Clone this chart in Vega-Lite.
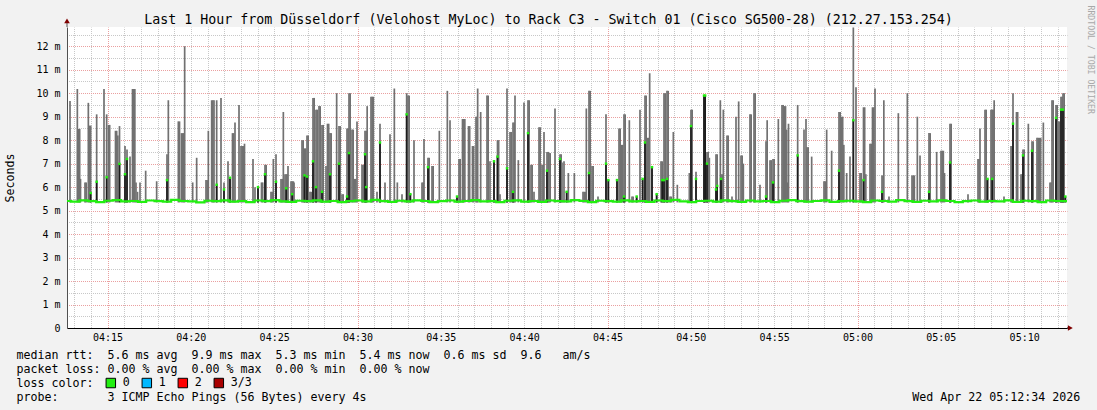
{
  "$schema": "https://vega.github.io/schema/vega-lite/v6.json",
  "width": 1000,
  "height": 301,
  "autosize": {"type": "none"},
  "padding": {"left": 67, "top": 27, "right": 30, "bottom": 82},
  "background": "#f2f2f2",
  "view": {"fill": "#ffffff", "stroke": null},
  "config": {"font": "DejaVu Sans Mono"},
  "title": {
    "text": "Last 1 Hour from Düsseldorf (Velohost MyLoc) to Rack C3 - Switch 01 (Cisco SG500-28) (212.27.153.254)",
    "font": "DejaVu Sans Mono", "fontSize": 13.3, "fontWeight": "normal", "color": "#000000",
    "anchor": "middle", "frame": "group", "dx": -18.5, "baseline": "alphabetic", "offset": -32
  },
  "datasets": {
    "smoke": [
      {"m":12.75,"hi":9.67},{"m":13.19,"hi":10.18},{"m":13.26,"hi":8.48},{"m":13.33,"hi":8.48},{"m":13.38,"hi":6.35},
      {"m":13.65,"hi":6.2},{"m":13.72,"hi":6.2},{"m":13.85,"hi":9.59},{"m":13.92,"hi":8.62},{"m":13.99,"md":5.75,"hi":8.62},
      {"m":14.35,"md":6.23,"hi":9.1},{"m":14.79,"hi":10.18},{"m":14.95,"md":6.42,"hi":9.1},{"m":15.06,"hi":8.65},{"m":15.13,"hi":8.65},
      {"m":15.48,"hi":8.4},{"m":15.55,"hi":8.4},{"m":15.62,"hi":8.2},{"m":15.72,"md":6.99,"hi":8.6},{"m":16.05,"md":6.55,"hi":7.75},
      {"m":16.17,"md":7.2,"hi":7.6},{"m":16.35,"hi":7.3},{"m":16.5,"hi":10.18},{"m":16.57,"hi":10.18},{"m":16.64,"hi":10.18},
      {"m":16.71,"hi":6.2},{"m":16.8,"hi":5.8},{"m":16.95,"hi":6.2},{"m":17.29,"hi":6.7},{"m":17.95,"hi":6.25},
      {"m":18.57,"md":6.3,"hi":7.4},{"m":18.65,"hi":9.7},{"m":19.25,"hi":8.8},{"m":19.32,"hi":8.8},{"m":19.44,"hi":8.3},
      {"m":19.51,"hi":8.3},{"m":19.58,"hi":8.3},{"m":19.63,"hi":12.0},{"m":20.11,"hi":6.2},{"m":20.35,"hi":7.25},
      {"m":20.91,"hi":6.3},{"m":20.98,"hi":6.3},{"m":21.05,"hi":8.4},{"m":21.25,"hi":9.7},{"m":21.32,"hi":9.7},
      {"m":21.39,"hi":9.7},{"m":21.55,"md":6.1,"hi":9.7},{"m":21.81,"hi":9.8},{"m":21.99,"md":5.9,"hi":6.2},{"m":22.23,"hi":7.1},
      {"m":22.35,"md":6.4,"hi":6.4},{"m":22.5,"hi":8.3},{"m":22.57,"hi":8.3},{"m":22.65,"hi":8.75},{"m":22.89,"hi":9.5},
      {"m":23.01,"hi":7.75},{"m":23.08,"hi":7.75},{"m":23.15,"hi":7.75},{"m":23.22,"hi":7.85},{"m":23.73,"hi":7.2},
      {"m":23.85,"hi":6.0},{"m":24.03,"md":6.0,"hi":6.0},{"m":24.24,"hi":6.2},{"m":24.31,"hi":6.2},{"m":24.45,"md":6.55,"hi":6.95},
      {"m":24.52,"hi":6.95},{"m":24.81,"hi":5.8},{"m":24.88,"hi":5.8},{"m":24.95,"hi":7.2},{"m":25.11,"md":6.23,"hi":7.4},
      {"m":25.41,"hi":6.35},{"m":25.48,"hi":6.35},{"m":25.55,"hi":9.2},{"m":25.65,"hi":6.55},{"m":25.72,"md":5.95,"hi":6.55},
      {"m":25.79,"hi":6.55},{"m":25.83,"hi":6.9},{"m":26.01,"hi":6.25},{"m":26.08,"md":5.7,"hi":6.25},{"m":26.15,"hi":6.25},
      {"m":26.19,"hi":6.2},{"m":26.67,"hi":8.0},{"m":26.74,"hi":8.0},{"m":26.82,"md":6.5,"hi":7.65},{"m":26.89,"hi":7.65},
      {"m":26.97,"md":6.45,"hi":8.2},{"m":27.04,"hi":8.2},{"m":27.15,"hi":5.8},{"m":27.22,"hi":5.8},{"m":27.33,"md":7.1,"hi":9.8},
      {"m":27.4,"hi":9.8},{"m":27.51,"md":6.0,"hi":9.3},{"m":27.58,"hi":9.3},{"m":27.69,"hi":9.45},{"m":27.76,"hi":9.45},
      {"m":27.87,"md":5.8,"hi":8.65},{"m":27.94,"hi":8.65},{"m":28.11,"hi":6.9},{"m":28.2,"hi":8.7},{"m":28.27,"hi":8.7},
      {"m":28.35,"md":6.55,"hi":8.3},{"m":28.42,"hi":8.3},{"m":28.75,"hi":10.0},{"m":28.89,"md":7.0,"hi":8.6},{"m":28.96,"hi":8.6},
      {"m":29.07,"hi":5.7},{"m":29.14,"hi":5.7},{"m":29.37,"md":5.6,"hi":8.5},{"m":29.44,"hi":8.5},{"m":29.49,"md":7.45,"hi":10.0},
      {"m":29.56,"hi":10.0},{"m":29.67,"hi":8.45},{"m":29.74,"hi":8.45},{"m":29.82,"hi":6.35},{"m":29.89,"hi":6.35},
      {"m":29.97,"hi":8.8},{"m":30.27,"hi":6.95},{"m":30.34,"hi":6.95},{"m":30.45,"md":7.4,"hi":8.4},{"m":30.52,"md":6.0,"hi":8.4},
      {"m":30.58,"hi":9.45},{"m":30.81,"hi":9.85},{"m":30.88,"hi":9.85},{"m":30.95,"hi":9.85},{"m":31.17,"hi":5.8},
      {"m":31.35,"md":7.9,"hi":8.7},{"m":31.65,"hi":6.2},{"m":31.95,"hi":8.25},{"m":32.21,"hi":10.2},{"m":32.39,"hi":6.2},
      {"m":32.67,"hi":5.7},{"m":32.95,"md":9.1,"hi":10.0},{"m":33.03,"hi":9.9},{"m":33.1,"hi":9.9},{"m":33.17,"md":5.7,"hi":5.7},
      {"m":33.39,"hi":8.0},{"m":33.87,"hi":6.2},{"m":33.94,"hi":6.2},{"m":33.99,"hi":8.05},{"m":34.23,"md":6.85,"hi":7.25},
      {"m":34.3,"hi":7.25},{"m":34.47,"hi":6.9},{"m":34.54,"hi":6.9},{"m":34.91,"hi":8.4},{"m":35.39,"hi":10.1},
      {"m":35.55,"hi":8.85},{"m":35.97,"md":5.6,"hi":5.6},{"m":36.09,"hi":7.2},{"m":36.16,"hi":7.2},{"m":36.3,"hi":8.9},
      {"m":36.37,"hi":8.9},{"m":36.44,"hi":8.9},{"m":36.66,"hi":8.6},{"m":36.73,"hi":8.6},{"m":36.9,"hi":7.75},
      {"m":36.97,"hi":7.75},{"m":37.11,"hi":9.0},{"m":37.18,"hi":9.0},{"m":37.21,"hi":10.2},{"m":37.39,"hi":9.2},
      {"m":37.77,"hi":9.9},{"m":37.84,"hi":9.9},{"m":37.95,"hi":7.1},{"m":38.19,"md":7.1,"hi":7.15},{"m":38.4,"md":7.3,"hi":8.0},
      {"m":38.47,"hi":8.0},{"m":38.55,"hi":5.7},{"m":38.97,"md":6.8,"hi":10.2},{"m":39.15,"hi":8.35},{"m":39.22,"hi":8.35},
      {"m":39.33,"md":5.8,"hi":8.75},{"m":39.4,"hi":8.75},{"m":39.45,"hi":9.9},{"m":39.65,"hi":7.15},{"m":39.99,"hi":9.6},
      {"m":40.23,"md":8.3,"hi":9.7},{"m":40.3,"hi":9.7},{"m":40.41,"hi":6.95},{"m":40.48,"hi":6.95},{"m":40.59,"hi":5.8},
      {"m":40.89,"hi":8.55},{"m":40.96,"hi":8.55},{"m":41.07,"hi":6.95},{"m":41.14,"hi":6.95},{"m":41.19,"hi":8.35},
      {"m":41.37,"md":6.7,"hi":7.5},{"m":41.44,"hi":7.5},{"m":41.49,"hi":7.45},{"m":41.56,"hi":7.45},{"m":41.85,"hi":9.35},
      {"m":42.15,"md":7.2,"hi":7.4},{"m":42.22,"hi":7.4},{"m":42.27,"hi":7.05},{"m":42.39,"hi":7.1},{"m":42.55,"md":5.8,"hi":5.8},
      {"m":42.65,"hi":6.6},{"m":43.01,"hi":6.6},{"m":43.53,"hi":5.8},{"m":43.6,"hi":5.8},{"m":43.67,"hi":5.8},
      {"m":43.73,"hi":9.35},{"m":43.89,"md":6.6,"hi":10.1},{"m":43.96,"hi":10.1},{"m":44.07,"hi":6.9},{"m":44.14,"hi":6.9},
      {"m":44.43,"hi":5.6},{"m":44.91,"md":7.0,"hi":9.1},{"m":45.05,"md":6.3,"hi":6.3},{"m":45.57,"md":6.3,"hi":6.3},{"m":45.69,"hi":8.5},
      {"m":45.76,"hi":8.5},{"m":45.84,"hi":7.8},{"m":45.91,"hi":7.8},{"m":45.99,"md":5.6,"hi":9.1},{"m":46.06,"hi":9.1},
      {"m":46.31,"hi":8.85},{"m":46.47,"hi":5.6},{"m":46.54,"hi":5.6},{"m":46.75,"md":5.6,"hi":5.6},{"m":46.95,"hi":9.3},
      {"m":47.11,"md":6.35,"hi":6.35},{"m":47.25,"md":7.9,"hi":9.9},{"m":47.32,"hi":9.9},{"m":47.4,"hi":8.1},{"m":47.47,"hi":8.1},
      {"m":47.53,"hi":10.85},{"m":47.67,"md":6.85,"hi":6.9},{"m":47.95,"md":5.7,"hi":5.7},{"m":48.21,"hi":7.1},{"m":48.28,"md":6.3,"hi":7.1},
      {"m":48.39,"md":6.3,"hi":10.0},{"m":48.46,"hi":10.0},{"m":48.57,"md":6.35,"hi":10.1},{"m":48.64,"hi":10.1},{"m":48.75,"hi":5.6},
      {"m":48.82,"hi":5.6},{"m":48.95,"hi":8.35},{"m":49.19,"hi":6.1},{"m":49.91,"hi":6.6},{"m":50.01,"md":8.6,"hi":9.3},
      {"m":50.08,"hi":9.3},{"m":50.31,"md":6.35,"hi":6.65},{"m":50.79,"md":9.9,"hi":9.9},{"m":50.86,"md":9.9,"hi":9.9},{"m":50.97,"md":7.0,"hi":7.5},
      {"m":51.04,"hi":7.5},{"m":51.11,"hi":7.25},{"m":51.51,"md":5.9,"hi":7.4},{"m":51.58,"md":6.05,"hi":7.4},{"m":51.77,"hi":9.7},
      {"m":51.81,"md":6.35,"hi":6.55},{"m":51.88,"hi":6.55},{"m":51.95,"hi":9.3},{"m":52.17,"hi":8.2},{"m":52.24,"hi":8.2},
      {"m":52.47,"hi":5.6},{"m":52.71,"hi":9.0},{"m":52.87,"hi":9.65},{"m":53.01,"hi":7.35},{"m":53.08,"hi":7.35},
      {"m":53.15,"hi":7.0},{"m":53.55,"hi":9.1},{"m":53.62,"hi":9.1},{"m":53.79,"hi":10.0},{"m":53.86,"hi":10.0},
      {"m":54.15,"hi":6.1},{"m":54.51,"md":5.6,"hi":7.95},{"m":54.58,"hi":8.85},{"m":54.75,"hi":7.15},{"m":54.82,"hi":7.15},
      {"m":54.93,"md":6.2,"hi":7.2},{"m":55.0,"hi":7.2},{"m":55.25,"hi":8.9},{"m":55.47,"hi":9.5},{"m":55.54,"hi":9.5},
      {"m":55.61,"hi":9.45},{"m":55.68,"hi":9.45},{"m":55.75,"hi":8.45},{"m":55.82,"hi":6.2},{"m":55.86,"hi":8.7},
      {"m":56.41,"md":7.35,"hi":9.5},{"m":56.79,"hi":8.45},{"m":56.91,"hi":8.9},{"m":56.97,"hi":7.7},{"m":57.04,"hi":7.7},
      {"m":57.25,"hi":7.3},{"m":57.99,"hi":6.25},{"m":58.06,"hi":6.25},{"m":58.15,"hi":8.45},{"m":58.45,"hi":7.55},
      {"m":58.89,"md":6.7,"hi":9.2},{"m":58.96,"hi":9.2},{"m":59.04,"hi":9.0},{"m":59.11,"hi":9.0},{"m":59.18,"hi":7.8},
      {"m":59.35,"hi":6.6},{"m":59.55,"hi":7.3},{"m":59.75,"md":8.85,"hi":12.8},{"m":59.91,"hi":10.25},{"m":60.15,"hi":6.6},
      {"m":60.22,"hi":6.6},{"m":60.36,"md":6.3,"hi":9.4},{"m":60.43,"hi":9.4},{"m":60.5,"hi":6.55},{"m":60.75,"hi":7.85},
      {"m":60.82,"hi":7.85},{"m":60.9,"hi":9.4},{"m":60.97,"hi":9.4},{"m":61.05,"hi":10.2},{"m":61.47,"md":5.8,"hi":6.5},
      {"m":61.54,"hi":6.5},{"m":61.58,"hi":9.7},{"m":61.89,"hi":5.6},{"m":62.45,"hi":9.15},{"m":62.99,"hi":10.0},
      {"m":63.27,"hi":6.5},{"m":63.34,"hi":6.5},{"m":63.41,"hi":6.5},{"m":63.59,"hi":9.0},{"m":63.75,"hi":7.35},
      {"m":64.29,"md":5.8,"hi":8.3},{"m":64.36,"hi":8.3},{"m":64.75,"hi":7.5},{"m":65.01,"hi":7.55},{"m":65.08,"hi":7.55},
      {"m":65.15,"hi":7.55},{"m":65.22,"hi":6.6},{"m":65.55,"md":7.05,"hi":8.7},{"m":65.62,"hi":8.7},{"m":66.63,"hi":5.7},
      {"m":67.23,"hi":7.2},{"m":67.3,"hi":7.2},{"m":67.35,"hi":8.5},{"m":67.65,"hi":9.3},{"m":67.72,"hi":9.3},
      {"m":67.8,"md":6.35,"hi":6.35},{"m":68.01,"hi":9.3},{"m":68.08,"md":6.35,"hi":9.3},{"m":68.15,"hi":9.3},{"m":68.2,"hi":9.7},
      {"m":68.79,"hi":5.6},{"m":69.21,"hi":7.75},{"m":69.28,"hi":7.75},{"m":69.33,"md":8.7,"hi":10.0},{"m":69.54,"hi":9.2},
      {"m":69.61,"hi":9.2},{"m":69.81,"hi":6.55},{"m":69.88,"hi":6.55},{"m":69.93,"md":7.35,"hi":7.6},{"m":70.0,"hi":7.6},
      {"m":70.25,"hi":8.7},{"m":70.47,"md":7.55,"hi":7.95},{"m":70.54,"hi":7.95},{"m":70.77,"hi":8.1},{"m":70.84,"hi":8.1},
      {"m":70.92,"hi":8.1},{"m":70.99,"hi":8.1},{"m":71.15,"hi":8.75},{"m":71.55,"hi":6.2},{"m":71.62,"hi":6.2},
      {"m":71.67,"hi":9.7},{"m":71.74,"hi":9.7},{"m":71.91,"md":8.95,"hi":9.5},{"m":71.98,"hi":9.5},{"m":72.03,"hi":8.8},
      {"m":72.1,"hi":8.8},{"m":72.21,"md":9.3,"hi":9.85},{"m":72.28,"hi":9.85},{"m":72.33,"md":9.3,"hi":10.0},{"m":72.4,"hi":10.0},
      {"m":72.47,"md":5.6,"hi":5.6}
    ],
    "base": [
      {"m":12.57,"v":5.41},{"m":13.07,"v":5.38},{"m":13.57,"v":5.44},{"m":14.07,"v":5.4},{"m":14.57,"v":5.36},{"m":15.07,"v":5.42},{"m":15.57,"v":5.45},{"m":16.07,"v":5.39},{"m":16.57,"v":5.41},{"m":17.07,"v":5.37},
      {"m":17.57,"v":5.43},{"m":18.07,"v":5.4},{"m":18.57,"v":5.38},{"m":19.07,"v":5.46},{"m":19.57,"v":5.41},{"m":20.07,"v":5.39},{"m":20.57,"v":5.35},{"m":21.07,"v":5.42},{"m":21.57,"v":5.4},{"m":22.07,"v":5.44},
      {"m":22.57,"v":5.38},{"m":23.07,"v":5.41},{"m":23.57,"v":5.36},{"m":24.07,"v":5.43},{"m":24.57,"v":5.4},{"m":25.07,"v":5.45},{"m":25.57,"v":5.39},{"m":26.07,"v":5.37},{"m":26.57,"v":5.42},{"m":27.07,"v":5.4},
      {"m":27.57,"v":5.44},{"m":28.07,"v":5.38},{"m":28.57,"v":5.41},{"m":29.07,"v":5.36},{"m":29.57,"v":5.4},{"m":30.07,"v":5.43},{"m":30.57,"v":5.39},{"m":31.07,"v":5.46},{"m":31.57,"v":5.4},{"m":32.07,"v":5.37},
      {"m":32.57,"v":5.42},{"m":33.07,"v":5.39},{"m":33.57,"v":5.44},{"m":34.07,"v":5.41},{"m":34.57,"v":5.36},{"m":35.07,"v":5.4},{"m":35.57,"v":5.43},{"m":36.07,"v":5.38},{"m":36.57,"v":5.41},{"m":37.07,"v":5.45},
      {"m":37.57,"v":5.39},{"m":38.07,"v":5.4},{"m":38.57,"v":5.36},{"m":39.07,"v":5.42},{"m":39.57,"v":5.44},{"m":40.07,"v":5.38},{"m":40.57,"v":5.41},{"m":41.07,"v":5.37},{"m":41.57,"v":5.43},{"m":42.07,"v":5.4},
      {"m":42.57,"v":5.39},{"m":43.07,"v":5.45},{"m":43.57,"v":5.41},{"m":44.07,"v":5.36},{"m":44.57,"v":5.42},{"m":45.07,"v":5.4},{"m":45.57,"v":5.38},{"m":46.07,"v":5.44},{"m":46.57,"v":5.39},{"m":47.07,"v":5.41},
      {"m":47.57,"v":5.37},{"m":48.07,"v":5.43},{"m":48.57,"v":5.4},{"m":49.07,"v":5.46},{"m":49.57,"v":5.39},{"m":50.07,"v":5.36},{"m":50.57,"v":5.41},{"m":51.07,"v":5.42},{"m":51.57,"v":5.38},{"m":52.07,"v":5.44},
      {"m":52.57,"v":5.4},{"m":53.07,"v":5.37},{"m":53.57,"v":5.43},{"m":54.07,"v":5.39},{"m":54.57,"v":5.41},{"m":55.07,"v":5.36},{"m":55.57,"v":5.42},{"m":56.07,"v":5.45},{"m":56.57,"v":5.4},{"m":57.07,"v":5.38},
      {"m":57.57,"v":5.41},{"m":58.07,"v":5.44},{"m":58.57,"v":5.37},{"m":59.07,"v":5.4},{"m":59.57,"v":5.42},{"m":60.07,"v":5.39},{"m":60.57,"v":5.36},{"m":61.07,"v":5.43},{"m":61.57,"v":5.41},{"m":62.07,"v":5.38},
      {"m":62.57,"v":5.45},{"m":63.07,"v":5.4},{"m":63.57,"v":5.37},{"m":64.07,"v":5.42},{"m":64.57,"v":5.39},{"m":65.07,"v":5.44},{"m":65.57,"v":5.41},{"m":66.07,"v":5.36},{"m":66.57,"v":5.4},{"m":67.07,"v":5.43},
      {"m":67.57,"v":5.38},{"m":68.07,"v":5.41},{"m":68.57,"v":5.39},{"m":69.07,"v":5.44},{"m":69.57,"v":5.37},{"m":70.07,"v":5.42},{"m":70.57,"v":5.4},{"m":71.07,"v":5.36},{"m":71.57,"v":5.43},{"m":72.07,"v":5.41},
      {"m":72.57,"v":5.4}
    ]
  },
  "resolve": {"axis": {"x": "independent", "y": "independent"}},
  "layer": [
    {
      "data": {"name": "smoke"},
      "mark": {"type": "rule", "color": "#717171", "strokeWidth": 1.7},
      "encoding": {
        "x": {
          "field": "m", "type": "quantitative",
          "scale": {"domain": [12.57, 72.57], "nice": false, "zero": false},
          "axis": {
            "values": [13,14,15,16,17,18,19,20,21,22,23,24,25,26,27,28,29,30,31,32,33,34,35,36,37,38,39,40,41,42,43,44,45,46,47,48,49,50,51,52,53,54,55,56,57,58,59,60,61,62,63,64,65,66,67,68,69,70,71,72],
            "labelExpr": "datum.value % 5 === 0 ? '0' + (4 + floor(datum.value / 60)) + ':' + (datum.value % 60 < 10 ? '0' : '') + (datum.value % 60) : ''",
            "labelFont": "DejaVu Sans Mono", "labelFontSize": 10, "labelColor": "#000000", "labelPadding": 4,
            "labelOverlap": false, "labelFlush": false, "labelBound": false,
            "ticks": false, "domain": true, "domainColor": "#000000", "domainWidth": 1,
            "grid": true,
            "gridColor": {"condition": {"test": "datum.value % 15 === 0", "value": "#eaa0a0"}, "value": "#c8c8c8"},
            "gridDash": [1, 1], "gridDashOffset": 0.5, "gridWidth": 1,
            "title": [
              "median rtt: \u00a05.6 ms avg \u00a09.9 ms max \u00a05.3 ms min \u00a05.4 ms now \u00a00.6 ms sd \u00a09.6 \u00a0\u00a0am/s",
              "packet loss: 0.00 % avg \u00a00.00 % max \u00a00.00 % min \u00a00.00 % now",
              "loss color:",
              "probe: \u00a0\u00a0\u00a0\u00a0\u00a0\u00a03 ICMP Echo Pings (56 Bytes) every 4s \u00a0\u00a0\u00a0\u00a0\u00a0\u00a0\u00a0\u00a0\u00a0\u00a0\u00a0\u00a0\u00a0\u00a0\u00a0\u00a0\u00a0\u00a0\u00a0\u00a0\u00a0\u00a0\u00a0\u00a0\u00a0\u00a0\u00a0\u00a0\u00a0\u00a0\u00a0\u00a0\u00a0\u00a0\u00a0\u00a0\u00a0\u00a0\u00a0\u00a0\u00a0\u00a0\u00a0\u00a0\u00a0\u00a0\u00a0\u00a0\u00a0\u00a0\u00a0\u00a0\u00a0\u00a0\u00a0\u00a0\u00a0\u00a0\u00a0\u00a0\u00a0\u00a0\u00a0\u00a0\u00a0\u00a0\u00a0\u00a0\u00a0\u00a0\u00a0\u00a0\u00a0\u00a0\u00a0\u00a0\u00a0Wed Apr 22 05:12:34 2026"
            ],
            "titleFont": "DejaVu Sans Mono", "titleFontSize": 11.63, "titleFontWeight": "normal", "titleColor": "#000000",
            "titleAnchor": "start", "titleAlign": "left", "titleBaseline": "top", "titleAngle": 0,
            "titleX": -51, "titleY": 21, "titleLineHeight": 14, "titleLimit": 3000
          }
        },
        "y": {
          "field": "hi", "type": "quantitative",
          "scale": {"domain": [0, 12.82], "nice": false, "zero": false},
          "axis": {
            "orient": "left",
            "values": [0,0.5,1,1.5,2,2.5,3,3.5,4,4.5,5,5.5,6,6.5,7,7.5,8,8.5,9,9.5,10,10.5,11,11.5,12,12.5],
            "labelExpr": "datum.value % 1 !== 0 ? '' : (datum.value === 0 ? '0' : datum.value + ' m')",
            "labelFont": "DejaVu Sans Mono", "labelFontSize": 10, "labelColor": "#000000", "labelPadding": 7,
            "labelOverlap": false, "labelFlush": false, "labelBound": false,
            "ticks": false, "domain": true, "domainColor": "#505050", "domainWidth": 1,
            "grid": true,
            "gridColor": {"condition": {"test": "datum.value % 1 === 0", "value": "#eaa0a0"}, "value": "#c8c8c8"},
            "gridDash": [1, 1], "gridDashOffset": 0.5, "gridWidth": 1,
            "title": "Seconds",
            "titleFont": "DejaVu Sans Mono", "titleFontSize": 11.6, "titleFontWeight": "normal", "titleColor": "#000000",
            "titleAngle": -90, "titleAlign": "center", "titleBaseline": "middle", "titleX": -57, "titleY": 150.5
          }
        },
        "y2": {"datum": 5.35}
      }
    },
    {
      "data": {"name": "smoke"},
      "transform": [{"filter": "datum.md > 5.5"}],
      "mark": {"type": "rule", "color": "#1c1c1c", "strokeWidth": 1.7},
      "encoding": {
        "x": {"field": "m", "type": "quantitative", "scale": {"domain": [12.57, 72.57], "nice": false, "zero": false}, "axis": null},
        "y": {"field": "md", "type": "quantitative", "scale": {"domain": [0, 12.82], "nice": false, "zero": false}, "axis": null},
        "y2": {"datum": 5.35}
      }
    },
    {
      "data": {"name": "base"},
      "mark": {"type": "line", "color": "#22ee11", "strokeWidth": 2.2, "interpolate": "step"},
      "encoding": {
        "x": {"field": "m", "type": "quantitative", "scale": {"domain": [12.57, 72.57], "nice": false, "zero": false}, "axis": null},
        "y": {
          "field": "v", "type": "quantitative",
          "scale": {"domain": [0, 12.82], "nice": false, "zero": false},
          "axis": {
            "orient": "right", "labels": false, "ticks": false, "domain": false, "grid": false,
            "title": "RRDTOOL / TOBI OETIKER",
            "titleFont": "DejaVu Sans Mono", "titleFontSize": 8.2, "titleFontWeight": "normal", "titleColor": "#a8a8a8",
            "titleAngle": 90, "titleAlign": "left", "titleBaseline": "middle", "titleX": 22, "titleY": -22
          }
        }
      }
    },
    {
      "data": {"name": "smoke"},
      "transform": [{"filter": "datum.md > 5.5"}],
      "mark": {"type": "point", "shape": "square", "filled": true, "size": 6, "opacity": 1},
      "encoding": {
        "x": {"field": "m", "type": "quantitative", "scale": {"domain": [12.57, 72.57], "nice": false, "zero": false}, "axis": null},
        "y": {"field": "md", "type": "quantitative", "scale": {"domain": [0, 12.82], "nice": false, "zero": false}, "axis": null},
        "color": {
          "datum": "0", "type": "nominal",
          "scale": {"domain": ["0", "1", "2", "3/3"], "range": ["#22ee11", "#00b8ff", "#ff0000", "#a80000"]},
          "legend": {
            "orient": "none", "legendX": 38, "legendY": 350, "direction": "horizontal",
            "title": null,
            "labelFont": "DejaVu Sans Mono", "labelFontSize": 11.63, "labelColor": "#000000", "labelOffset": 6,
            "columnPadding": 10, "symbolType": "square", "symbolSize": 90, "symbolStrokeColor": "#000000",
            "symbolStrokeWidth": 1, "symbolOpacity": 1, "padding": 0, "symbolOffset": 0,
            "encode": {"symbols": {"update": {"stroke": {"value": "#000000"}, "strokeWidth": {"value": 1}}}}
          }
        }
      }
    },
    {
      "data": {"values": [{}]},
      "mark": {"type": "rule", "color": "#505050", "strokeWidth": 1},
      "encoding": {
        "x": {"datum": 12.57, "type": "quantitative", "scale": {"domain": [12.57, 72.57], "nice": false, "zero": false}, "axis": null},
        "y": {"datum": 12.82, "type": "quantitative", "scale": {"domain": [0, 12.82], "nice": false, "zero": false}, "axis": null},
        "y2": {"datum": 13.02}
      }
    },
    {
      "data": {"values": [{}]},
      "mark": {"type": "rule", "color": "#000000", "strokeWidth": 1},
      "encoding": {
        "x": {"datum": 72.57, "type": "quantitative", "scale": {"domain": [12.57, 72.57], "nice": false, "zero": false}, "axis": null},
        "x2": {"datum": 72.75},
        "y": {"datum": 0, "type": "quantitative", "scale": {"domain": [0, 12.82], "nice": false, "zero": false}, "axis": null}
      }
    },
    {
      "data": {"values": [{}]},
      "mark": {"type": "point", "shape": "triangle-up", "filled": true, "color": "#7f0000", "size": 32, "opacity": 1},
      "encoding": {
        "x": {"datum": 12.57, "type": "quantitative", "scale": {"domain": [12.57, 72.57], "nice": false, "zero": false}, "axis": null},
        "y": {"datum": 13.08, "type": "quantitative", "scale": {"domain": [0, 12.82], "nice": false, "zero": false}, "axis": null}
      }
    },
    {
      "data": {"values": [{}]},
      "mark": {"type": "point", "shape": "triangle-right", "filled": true, "color": "#7f0000", "size": 32, "opacity": 1},
      "encoding": {
        "x": {"datum": 72.77, "type": "quantitative", "scale": {"domain": [12.57, 72.57], "nice": false, "zero": false}, "axis": null},
        "y": {"datum": 0, "type": "quantitative", "scale": {"domain": [0, 12.82], "nice": false, "zero": false}, "axis": null}
      }
    }
  ]
}
